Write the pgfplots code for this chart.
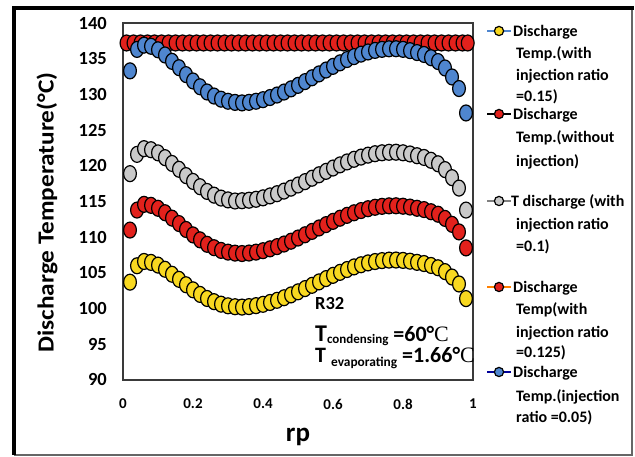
\documentclass[border=0pt]{standalone}
\usepackage{fontspec}
\setmainfont{Carlito}
\newfontfamily\serifC{Liberation Serif}
\usepackage{pgfplots}
\usepackage{pgfplotstable}
\pgfplotsset{compat=1.18}
\definecolor{cred}{HTML}{E2211C}
\definecolor{cblue}{HTML}{4F86CF}
\definecolor{cgray}{HTML}{C9C9C9}
\definecolor{cyellow}{HTML}{F8D820}
\definecolor{cframe}{HTML}{3A3A3A}

\pgfplotstableread{
x y
0.02 103.7
0.04 106.0
0.06 106.6
0.08 106.47
0.10 106.09
0.12 105.51
0.14 104.81
0.16 104.10
0.18 103.34
0.20 102.63
0.22 101.99
0.24 101.42
0.26 100.97
0.28 100.62
0.30 100.39
0.32 100.26
0.34 100.21
0.36 100.28
0.38 100.41
0.40 100.60
0.42 100.86
0.44 101.16
0.46 101.52
0.48 101.92
0.50 102.35
0.52 102.80
0.54 103.26
0.56 103.74
0.58 104.20
0.60 104.66
0.62 105.08
0.64 105.47
0.66 105.84
0.68 106.14
0.70 106.40
0.72 106.59
0.74 106.72
0.76 106.79
0.78 106.80
0.80 106.75
0.82 106.64
0.84 106.48
0.86 106.31
0.88 106.04
0.90 105.72
0.92 105.18
0.94 104.42
0.96 103.45
0.98 101.40
}\yellowdata

\pgfplotstableread{
x y
0.01 137.2
0.03 137.2
0.05 137.2
0.07 137.2
0.09 137.2
0.11 137.2
0.13 137.2
0.15 137.2
0.17 137.2
0.19 137.2
0.21 137.2
0.23 137.2
0.25 137.2
0.27 137.2
0.29 137.2
0.31 137.2
0.33 137.2
0.35 137.2
0.37 137.2
0.39 137.2
0.41 137.2
0.43 137.2
0.45 137.2
0.47 137.2
0.49 137.2
0.51 137.2
0.53 137.2
0.55 137.2
0.57 137.2
0.59 137.2
0.61 137.2
0.63 137.2
0.65 137.2
0.67 137.2
0.69 137.2
0.71 137.2
0.73 137.2
0.75 137.2
0.77 137.2
0.79 137.2
0.81 137.2
0.83 137.2
0.85 137.2
0.87 137.2
0.89 137.2
0.91 137.2
0.93 137.2
0.95 137.2
0.97 137.2
0.985 137.2
}\reddata

\pgfplotstableread{
x y
0.02 118.9
0.04 121.6
0.06 122.4
0.08 122.25
0.10 121.81
0.12 121.14
0.14 120.33
0.16 119.51
0.18 118.63
0.20 117.81
0.22 117.07
0.24 116.41
0.26 115.89
0.28 115.48
0.30 115.22
0.32 115.07
0.34 115.11
0.36 115.18
0.38 115.31
0.40 115.51
0.42 115.78
0.44 116.09
0.46 116.46
0.48 116.87
0.50 117.31
0.52 117.78
0.54 118.26
0.56 118.74
0.58 119.22
0.60 119.69
0.62 120.13
0.64 120.54
0.66 120.91
0.68 121.22
0.70 121.49
0.72 121.69
0.74 121.82
0.76 121.89
0.78 121.90
0.80 121.82
0.82 121.66
0.84 121.41
0.86 121.17
0.88 120.77
0.90 120.28
0.92 119.47
0.94 118.34
0.96 116.88
0.98 113.80
}\graydata

\pgfplotstableread{
x y
0.02 111.0
0.04 113.8
0.06 114.6
0.08 114.46
0.10 114.05
0.12 113.43
0.14 112.67
0.16 111.91
0.18 111.08
0.20 110.32
0.22 109.63
0.24 109.01
0.26 108.53
0.28 108.15
0.30 107.91
0.32 107.77
0.34 107.71
0.36 107.78
0.38 107.91
0.40 108.11
0.42 108.37
0.44 108.68
0.46 109.04
0.48 109.44
0.50 109.88
0.52 110.34
0.54 110.81
0.56 111.29
0.58 111.76
0.60 112.22
0.62 112.66
0.64 113.06
0.66 113.42
0.68 113.73
0.70 113.99
0.72 114.19
0.74 114.32
0.76 114.39
0.78 114.40
0.80 114.34
0.82 114.22
0.84 114.05
0.86 113.87
0.88 113.57
0.90 113.22
0.92 112.63
0.94 111.80
0.96 110.74
0.98 108.50
}\redinjdata

\pgfplotstableread{
x y
0.02 133.3
0.04 136.3
0.06 136.9
0.08 136.74
0.10 136.25
0.12 135.52
0.14 134.63
0.16 133.74
0.18 132.77
0.20 131.88
0.22 131.07
0.24 130.34
0.26 129.77
0.28 129.33
0.30 129.04
0.32 128.88
0.34 128.81
0.36 128.89
0.38 129.04
0.40 129.26
0.42 129.56
0.44 129.91
0.46 130.33
0.48 130.78
0.50 131.27
0.52 131.79
0.54 132.33
0.56 132.87
0.58 133.41
0.60 133.93
0.62 134.42
0.64 134.88
0.66 135.29
0.68 135.64
0.70 135.94
0.72 136.16
0.74 136.31
0.76 136.39
0.78 136.40
0.80 136.31
0.82 136.13
0.84 135.86
0.86 135.59
0.88 135.14
0.90 134.60
0.92 133.70
0.94 132.44
0.96 130.82
0.98 127.40
}\bluedata

\begin{document}
\begin{tikzpicture}[x=1pt,y=1pt]
\useasboundingbox (0,0) rectangle (635,457);
% outer frame
\draw[black!60, line width=1.2pt] (14,448.5) -- (632,448.5) -- (632,2) -- (14,2);
\draw[black, line width=4pt] (14,2) -- (14,448.5) -- (634,448.5);
\begin{axis}[
  at={(123pt,77pt)}, anchor=south west,
  width=350pt, height=357pt, scale only axis,
  xmin=0, xmax=1, ymin=90, ymax=140,
  xtick={0,0.2,0.4,0.6,0.8,1},
  xticklabels={0,0.2,0.4,0.6,0.8,1},
  ytick={90,95,100,105,110,115,120,125,130,135,140},
  major tick length=0pt,
  axis line style={draw=cframe, line width=1.6pt},
  clip=false,
  /pgf/number format/assume math mode=true,
  yticklabel style={font=\bfseries\fontsize{18.5}{18.5}\selectfont, anchor=east, inner sep=0pt, xshift=-16pt},
  xticklabel style={font=\bfseries\fontsize{15}{15}\selectfont, anchor=center, inner sep=0pt, yshift=-24pt},
  xlabel={rp},
  xlabel style={font=\bfseries\fontsize{27}{27}\selectfont, at={(axis description cs:0.5,-0.171)}, anchor=base, inner sep=0pt},
  ylabel={Discharge Temperature(°C)},
  ylabel style={font=\bfseries\fontsize{23}{23}\selectfont, at={(axis description cs:-0.217,0.469)}, anchor=center, inner sep=0pt, xscale=1.1},
  dot/.style={only marks, mark=*, mark size=6.4pt, mark options={draw=black, line width=1.2pt, fill=#1, yscale=1.25}},
]
\addplot[dot=cyellow] table[x=x,y=y]{\yellowdata};
\addplot[dot=cred] table[x=x,y=y]{\reddata};
\addplot[dot=cgray] table[x=x,y=y]{\graydata};
\addplot[dot=cred] table[x=x,y=y]{\redinjdata};
\addplot[dot=cblue] table[x=x,y=y]{\bluedata};
\end{axis}
% annotation
\node[anchor=base west, inner sep=0pt, font=\bfseries\fontsize{18.5}{18.5}\selectfont] at (315,147) {R32};
\node[anchor=base west, inner sep=0pt, font=\bfseries] at (315,115) {\fontsize{24}{24}\selectfont T\raisebox{-2pt}{\fontsize{13}{13}\selectfont condensing}\fontsize{22}{22}\selectfont\ =60°{\serifC\mdseries C}};
\node[anchor=base west, inner sep=0pt, font=\bfseries] at (315,94) {\fontsize{22}{22}\selectfont T\ \raisebox{-4pt}{\fontsize{13.4}{13.4}\selectfont evaporating}\fontsize{22}{22}\selectfont\ =1.66°{\serifC\mdseries C}};
% legend
\tikzset{legtext/.style={anchor=base west, inner sep=0pt, font=\bfseries\fontsize{16}{16}\selectfont}}
\newcommand{\legsym}[4]{%
  \draw[#2, line width=1.4pt] (#1-12,457-#4) -- (#1+12,457-#4);
  \draw[black, line width=1.2pt, fill=#3] (#1,457-#4) circle (4.6pt);}
\legsym{499}{cblue}{cyellow}{31}
\node[legtext] at (513,457-37) {Discharge};
\node[legtext] at (516,457-59) {Temp.(with};
\node[legtext] at (516,457-81) {injection ratio};
\node[legtext] at (516,457-102) {=0.15)};
\legsym{499}{black}{cred}{114}
\node[legtext] at (513,457-120) {Discharge};
\node[legtext] at (516,457-143) {Temp.(without};
\node[legtext] at (516,457-167) {injection)};
\legsym{499}{gray}{cgray}{201}
\node[legtext] at (511,457-207) {T discharge (with};
\node[legtext] at (516,457-230) {injection ratio};
\node[legtext] at (516,457-252) {=0.1)};
\legsym{499}{orange}{cred}{287}
\node[legtext] at (513,457-293) {Discharge};
\node[legtext] at (516,457-315) {Temp(with};
\node[legtext] at (516,457-338) {injection ratio};
\node[legtext] at (516,457-358) {=0.125)};
\legsym{499}{blue!60!black}{cblue}{372}
\node[legtext] at (513,457-378) {Discharge};
\node[legtext] at (516,457-402) {Temp.(injection};
\node[legtext] at (516,457-423) {ratio =0.05)};
\end{tikzpicture}
\end{document}
